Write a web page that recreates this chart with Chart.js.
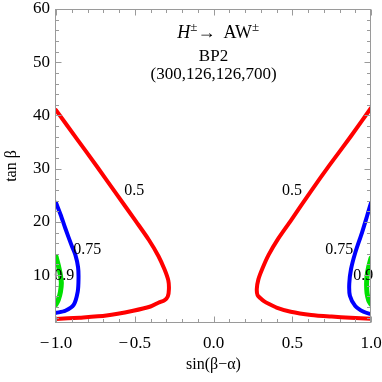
<!DOCTYPE html>
<html><head><meta charset="utf-8">
<script src="https://cdn.jsdelivr.net/npm/chart.js@4/dist/chart.umd.min.js"></script>
<style>html,body{margin:0;padding:0;background:#fff}#wrap{width:382px;height:382px}</style>
</head><body><div id="wrap"><canvas id="c" width="382" height="382"></canvas></div>
<script>
// ---- data ----
const xTicks = [-1, -0.5, 0, 0.5, 1];
const xMinorTicks = [-0.9,-0.8,-0.7,-0.6,-0.4,-0.3,-0.2,-0.1,0.1,0.2,0.3,0.4,0.6,0.7,0.8,0.9];
const yTicks = [10, 20, 30, 40, 50, 60];
const yMinorTicks = [2,4,6,8,12,14,16,18,22,24,26,28,32,34,36,38,42,44,46,48,52,54,56,58];

// contour 0.5 (red)
const redLeftX  = [-1.0, -0.87, -0.74, -0.62, -0.49, -0.41, -0.35, -0.31, -0.287, -0.283, -0.29, -0.31, -0.35, -0.40, -0.51, -0.68, -0.85, -1.0];
const redLeftY  = [41.0, 35.7, 30.4, 25.4, 20.0, 16.6, 13.6, 11.0, 9.0, 7.4, 6.0, 5.3, 4.8, 4.1, 3.3, 2.4, 2.0, 1.75];
const redRightX = [1.0, 0.87, 0.74, 0.615, 0.49, 0.41, 0.35, 0.31, 0.285, 0.275, 0.28, 0.30, 0.32, 0.35, 0.40, 0.49, 0.62, 0.75, 0.87, 1.0];
const redRightY = [41.4, 36.0, 30.8, 25.6, 20.2, 16.8, 13.8, 11.2, 9.2, 7.4, 6.2, 5.6, 5.1, 4.6, 3.9, 3.1, 2.5, 2.2, 2.0, 1.8];
// contour 0.75 (blue)
const blueLeftX  = [-1.0, -0.97, -0.941, -0.9, -0.877, -0.86, -0.857, -0.862, -0.888, -0.941, -1.0];
const blueLeftY  = [23.6, 21.3, 18.8, 15.5, 13.8, 11.5, 9.4, 6.9, 4.4, 3.3, 2.9];
const blueRightX = [1.0, 0.975, 0.943, 0.9, 0.873, 0.862, 0.866, 0.9, 0.953, 1.0];
const blueRightY = [23.6, 21.1, 18.0, 14.2, 11.1, 8.4, 6.1, 4.2, 3.1, 2.65];
// contour 0.9 (green)
const greenLeftX  = [-1.0, -0.985, -0.972, -0.966, -0.972, -0.985, -1.0];
const greenLeftY  = [13.5, 11.8, 10.0, 8.5, 6.8, 5.4, 4.5];
const greenRightX = [1.0, 0.985, 0.975, 0.972, 0.975, 0.985, 1.0];
const greenRightY = [13.2, 11.5, 9.8, 8.3, 6.6, 5.3, 4.5];

const contourLabelText = ['0.5', '0.5', '0.75', '0.75', '0.9', '0.9'];
const contourLabelX = [-0.503, 0.498, -0.801, 0.799, -0.947, 0.951];
const contourLabelY = [25.9, 25.8, 14.7, 14.75, 9.8, 9.8];

const titleLine2 = 'BP2';
const titleLine3 = '(300,126,126,700)';

// ---- chart ----
const FONT = '"Liberation Serif", "Times New Roman", serif';
const xy = (xs, ys) => xs.map((v, i) => ({x: v, y: ys[i]}));
const line = (xs, ys, color, w) => ({
  data: xy(xs, ys), borderColor: color, borderWidth: w, showLine: true,
  pointRadius: 0, fill: false, tension: 0.25, clip: 0,
  borderCapStyle: 'round', borderJoinStyle: 'round'
});
const fmt = v => (v < 0 ? '\u2212\u200A' : '') + Math.abs(v).toFixed(1);

const framePlugin = {
  id: 'frame',
  afterDraw(chart) {
    const {ctx, chartArea: a, scales: {x, y}} = chart;
    ctx.save();
    ctx.strokeStyle = '#9a9a9a';
    ctx.lineWidth = 1;
    const L = Math.round(a.left) - 0.5, R = Math.round(a.right) - 0.5;
    const T = Math.round(a.top) + 0.5, B = Math.round(a.bottom) - 0.5;
    ctx.strokeRect(L, T, R - L, B - T);
    ctx.beginPath();
    const tx = (vals, len) => vals.forEach(v => {
      const p = Math.round(x.getPixelForValue(v)) + 0.5;
      ctx.moveTo(p, B); ctx.lineTo(p, B - len);
      ctx.moveTo(p, T); ctx.lineTo(p, T + len);
    });
    const ty = (vals, len) => vals.forEach(v => {
      const p = Math.round(y.getPixelForValue(v)) + 0.5;
      ctx.moveTo(L, p); ctx.lineTo(L + len, p);
      ctx.moveTo(R, p); ctx.lineTo(R - len, p);
    });
    tx(xTicks, 6); tx(xMinorTicks, 3.5);
    ty(yTicks, 6); ty(yMinorTicks, 3.5);
    ctx.stroke();
    ctx.restore();
  }
};

const textPlugin = {
  id: 'texts',
  afterDatasetsDraw(chart) {
    const {ctx, scales: {x, y}} = chart;
    ctx.save();
    ctx.fillStyle = '#000';
    ctx.textAlign = 'center';
    ctx.textBaseline = 'middle';
    ctx.font = '16px ' + FONT;
    contourLabelText.forEach((t, i) => {
      ctx.fillText(t, x.getPixelForValue(contourLabelX[i]), y.getPixelForValue(contourLabelY[i]));
    });
    // title block
    ctx.textBaseline = 'alphabetic';
    ctx.font = '17px ' + FONT;
    ctx.fillText(titleLine2, x.getPixelForValue(0), y.getPixelForValue(50.3));
    ctx.fillText(titleLine3, x.getPixelForValue(0), y.getPixelForValue(46.87));
    const segs = [
      {t: 'H', f: 'italic 18px ' + FONT, dy: 0},
      {t: '\u00B1', f: '13px ' + FONT, dy: -7},
      {t: '\u2192\u2009 AW', f: '18px ' + FONT, dy: 0},
      {t: '\u00B1', f: '13px ' + FONT, dy: -7}
    ];
    let total = 0;
    segs.forEach(s => { ctx.font = s.f; s.w = ctx.measureText(s.t).width; total += s.w; });
    let cx = x.getPixelForValue(0.03) - total / 2;
    const by = y.getPixelForValue(54.56);
    ctx.textAlign = 'left';
    segs.forEach(s => { ctx.font = s.f; ctx.fillText(s.t, cx, by + s.dy); cx += s.w; });
    ctx.restore();
  }
};

new Chart(document.getElementById('c'), {
  type: 'scatter',
  data: {
    datasets: [
      line(redLeftX, redLeftY, '#ff0000', 4),
      line(redRightX, redRightY, '#ff0000', 4),
      line(blueLeftX, blueLeftY, '#0000ff', 4),
      line(blueRightX, blueRightY, '#0000ff', 4),
      line(greenLeftX, greenLeftY, '#00e000', 5),
      line(greenRightX, greenRightY, '#00e000', 5)
    ]
  },
  options: {
    responsive: false,
    animation: false,
    devicePixelRatio: 1,
    layout: {padding: {top: 9, right: 11, left: 0, bottom: 0}},
    plugins: {legend: {display: false}, tooltip: {enabled: false}},
    scales: {
      x: {
        type: 'linear', min: -1, max: 1,
        afterBuildTicks: s => { s.ticks = xTicks.map(v => ({value: v})); },
        afterFit: s => { s.height = 59; s.paddingLeft = 0; s.paddingRight = 0; },
        grid: {display: false, drawTicks: false},
        border: {display: false},
        ticks: {padding: 10, color: '#000', font: {family: FONT, size: 17}, callback: v => fmt(v), maxRotation: 0, autoSkip: false},
        title: {display: true, text: 'sin(\u03B2\u2212\u03B1)', color: '#000', font: {family: FONT, size: 16}, padding: {top: 0, bottom: 8}}
      },
      y: {
        type: 'linear', min: 1, max: 60,
        afterBuildTicks: s => { s.ticks = yTicks.map(v => ({value: v})); },
        afterFit: s => { s.width = 56; s.paddingTop = 0; s.paddingBottom = 0; },
        grid: {display: false, drawTicks: false},
        border: {display: false},
        ticks: {padding: 6, color: '#000', font: {family: FONT, size: 17}, callback: v => String(v), autoSkip: false},
        title: {display: true, text: 'tan \u03B2', color: '#000', font: {family: FONT, size: 16}, padding: {top: 2, bottom: 0}}
      }
    }
  },
  plugins: [textPlugin, framePlugin]
});
</script>
</body></html>
